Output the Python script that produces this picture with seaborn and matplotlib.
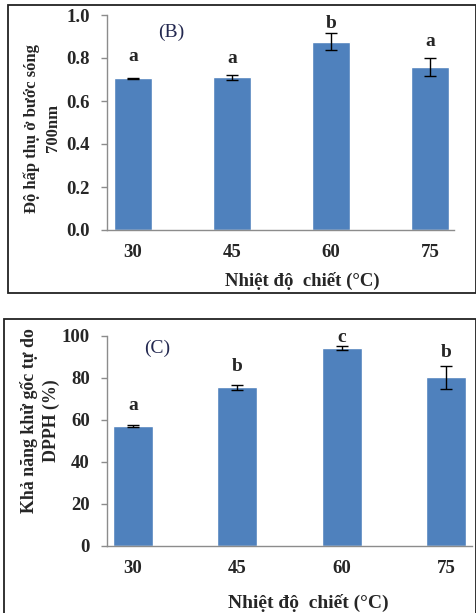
import seaborn as sns
import matplotlib.pyplot as plt
import pandas as pd
from matplotlib.patches import Rectangle

# Dữ liệu
nhiet_do = ['30', '45', '60', '75']

# (B) độ hấp thụ ở 700nm
hap_thu = [0.706, 0.711, 0.875, 0.758]
hap_thu_sd = [0.003, 0.011, 0.040, 0.044]
chu_b = ['a', 'a', 'b', 'a']
chu_b_y = [0.786, 0.775, 0.938, 0.857]

# (C) khả năng khử gốc tự do DPPH (%)
dpph = [57.2, 75.5, 94.4, 80.3]
dpph_sd = [0.6, 1.2, 1.0, 5.5]
chu_c = ['a', 'b', 'c', 'b']
chu_c_y = [64.8, 83.5, 97.3, 90.1]

df_b = pd.DataFrame({'nhiet_do': nhiet_do, 'gia_tri': hap_thu})
df_c = pd.DataFrame({'nhiet_do': nhiet_do, 'gia_tri': dpph})

sns.set_style('white')
plt.rcParams['font.family'] = ['Liberation Serif', 'DejaVu Serif']

mau_cot = '#4F81BD'
mau_truc = '#8c8c8c'
W, H = 477, 613

fig = plt.figure(figsize=(W / 100, H / 100), dpi=100)

# khung viền quanh từng hình
fig.patches.append(Rectangle((8 / W, 1 - 293 / H), (476 - 8) / W, (293 - 5) / H,
                             transform=fig.transFigure, fill=False,
                             edgecolor='#222222', linewidth=1.3))
fig.patches.append(Rectangle((4 / W, -0.02), (476.5 - 4) / W, 1 - 319 / H + 0.02,
                             transform=fig.transFigure, fill=False,
                             edgecolor='#222222', linewidth=1.3))

ax1 = fig.add_axes([107 / W, 1 - 230 / H, (454 - 107) / W, 215 / H])
ax2 = fig.add_axes([107 / W, 1 - 546 / H, (472 - 107) / W, 210 / H])


def ve_cot(ax, df, sd, chu, chu_y, ylim, yticks, fmt, xlim):
    sns.barplot(data=df, x='nhiet_do', y='gia_tri', ax=ax, color=mau_cot,
                width=0.385, saturation=1, errorbar=None)
    ax.errorbar(range(len(df)), df['gia_tri'], yerr=sd, fmt='none',
                ecolor='black', elinewidth=1, capsize=4.2, capthick=1)
    for i, (c, y) in enumerate(zip(chu, chu_y)):
        ax.text(i, y, c, ha='center', va='baseline', fontsize=14,
                fontweight='bold')
    ax.set_xlim(*xlim)
    ax.set_ylim(*ylim)
    ax.set_yticks(yticks)
    ax.set_yticklabels([fmt.format(v) for v in yticks], fontsize=13.5,
                       fontweight='bold')
    ax.set_xticks(range(len(df)))
    ax.set_xticklabels(df['nhiet_do'], fontsize=13.5, fontweight='bold')
    ax.set_xticks([0.5, 1.5, 2.5, xlim[1]], minor=True)
    ax.tick_params(axis='x', which='major', length=0, pad=10)
    ax.tick_params(axis='x', which='minor', length=4, color=mau_truc, width=1)
    ax.tick_params(axis='y', length=4, color=mau_truc, width=1, pad=8.5, left=True)
    for s in ['top', 'right']:
        ax.spines[s].set_visible(False)
    for s in ['left', 'bottom']:
        ax.spines[s].set_color(mau_truc)
        ax.spines[s].set_linewidth(1)


ve_cot(ax1, df_b, hap_thu_sd, chu_b, chu_b_y, (0, 1.0),
       [0.0, 0.2, 0.4, 0.6, 0.8, 1.0], '{:.1f}', (-0.263, 3.24))
ax1.text(0.39, 0.92, '(B)', ha='center', va='center', fontsize=14,
         color='#232850')
ax1.set_ylabel('Độ hấp thụ ở bước sóng\n700nm', fontsize=12,
               fontweight='bold', linespacing=1.45)
ax1.yaxis.label.set_va('center')
ax1.yaxis.set_label_coords(-0.187, 0.474)
ax1.set_xlabel('Nhiệt độ  chiết (°C)', fontsize=13.5, fontweight='bold')
ax1.xaxis.set_label_coords(0.562, -0.237)
ax1.xaxis.label.set_va('center')

ve_cot(ax2, df_c, dpph_sd, chu_c, chu_c_y, (0, 100),
       [0, 20, 40, 60, 80, 100], '{:d}', (-0.25, 3.25))
ax2.text(0.23, 94.3, '(C)', ha='center', va='center', fontsize=14,
         color='#232850')
ax2.set_ylabel('Khả năng khử gốc tự do\nDPPH (%)', fontsize=12.9,
               fontweight='bold', linespacing=1.4)
ax2.yaxis.label.set_va('center')
ax2.yaxis.set_label_coords(-0.184, 0.595)
ax2.set_xlabel('Nhiệt độ  chiết (°C)', fontsize=14, fontweight='bold')
ax2.xaxis.set_label_coords(0.551, -0.271)
ax2.xaxis.label.set_va('center')

fig.savefig('out.png', dpi=100)
